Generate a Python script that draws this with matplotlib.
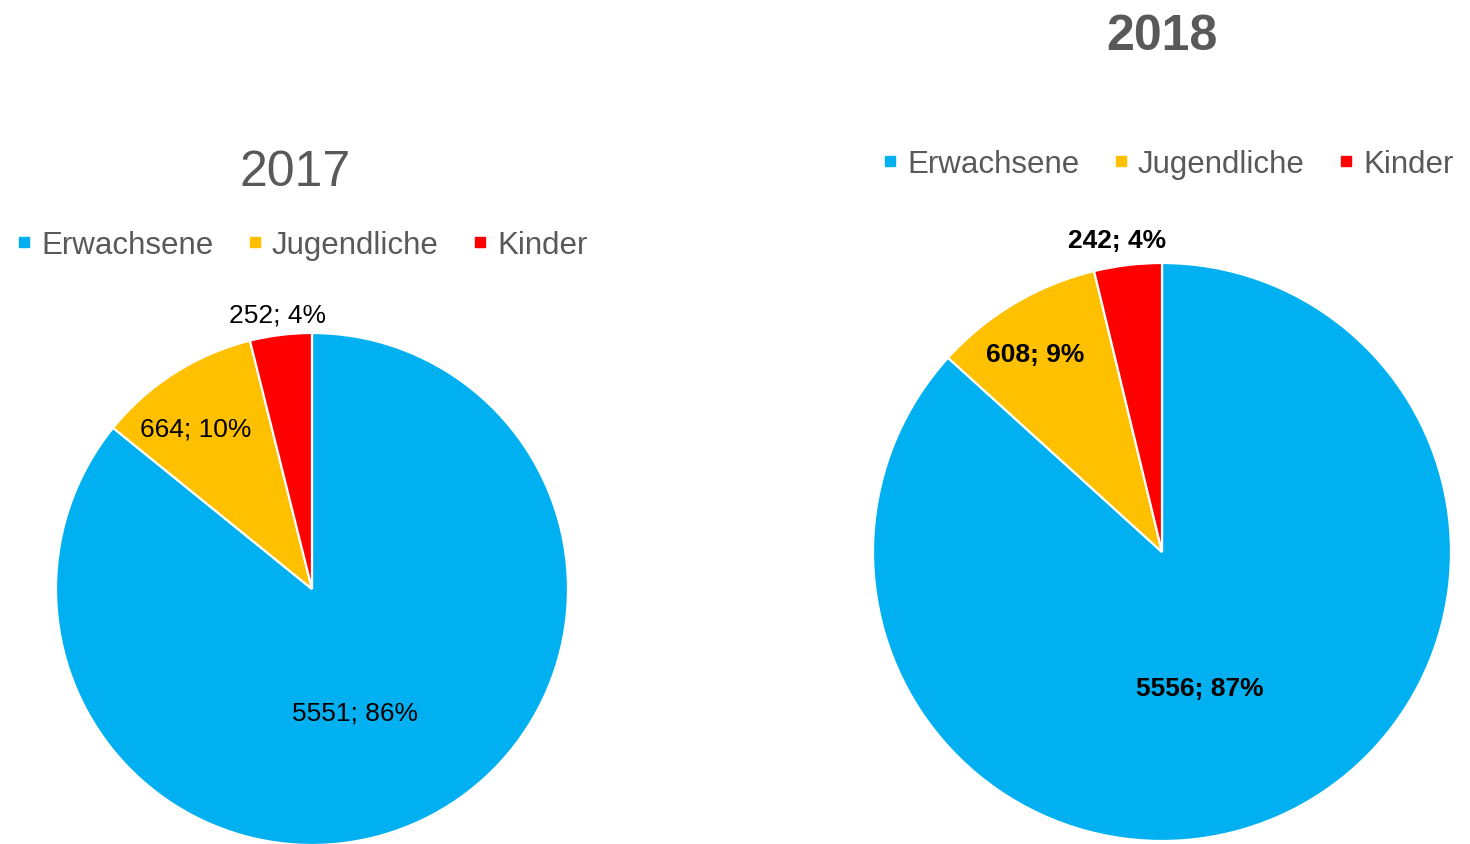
import matplotlib.pyplot as plt
from matplotlib.lines import Line2D
import numpy as np

plt.rcParams['font.family'] = ['Liberation Sans', 'DejaVu Sans']

categories = ['Erwachsene', 'Jugendliche', 'Kinder']
values_2017 = [5551, 664, 252]
values_2018 = [5556, 608, 242]
colors = ['#00B0F0', '#FFC000', '#FF0000']
grey = '#595959'

W, H = 1470, 845
fig = plt.figure(figsize=(W / 100, H / 100), dpi=100)


def px_axes(cx, cy, r):
    # axes box in pixels -> figure fraction, pie of radius 1 fills it
    return fig.add_axes([(cx - r) / W, (H - cy - r) / H, 2 * r / W, 2 * r / H])


def draw_pie(ax, values, label_pos, weight):
    wedges, _ = ax.pie(values, colors=colors, startangle=90, counterclock=False,
                       radius=1, wedgeprops=dict(edgecolor='white', linewidth=1.6))
    total = sum(values)
    # label_pos: (radial distance, angle shift in degrees) per wedge
    for w, v, (d, shift) in zip(wedges, values, label_pos):
        mid = np.deg2rad((w.theta1 + w.theta2) / 2 + shift)
        ax.text(d * np.cos(mid), d * np.sin(mid), f'{v}; {round(100 * v / total)}%',
                ha='center', va='center_baseline', fontsize=19, fontweight=weight,
                color='black')
    ax.set_xlim(-1, 1)
    ax.set_ylim(-1, 1)
    ax.set_aspect('equal')
    ax.axis('off')


def add_legend(x, y):
    handles = [Line2D([], [], marker='s', linestyle='none', markersize=7.5,
                      markerfacecolor=c, markeredgecolor=c) for c in colors]
    fig.legend(handles, categories, loc='center', bbox_to_anchor=(x / W, 1 - y / H),
               ncol=3, frameon=False, fontsize=22.5, labelcolor=grey,
               handlelength=0.5, handletextpad=0.3, columnspacing=1.08)


ax1 = px_axes(312, 590, 256)
draw_pie(ax1, values_2017, [(0.5, -6), (0.78, 3), (1.09, 0)], 'normal')
ax2 = px_axes(1162, 553, 289)
draw_pie(ax2, values_2018, [(0.48, -8), (0.82, 1.6), (1.10, 1.4)], 'bold')

fig.text(295 / W, 1 - 186 / H, '2017', ha='center', va='baseline', fontsize=36, color=grey)
fig.text(1162 / W, 1 - 50 / H, '2018', ha='center', va='baseline', fontsize=36,
         fontweight='bold', color=grey)

add_legend(302, 246)
add_legend(1168, 165)

fig.savefig('out.png', dpi=100)
